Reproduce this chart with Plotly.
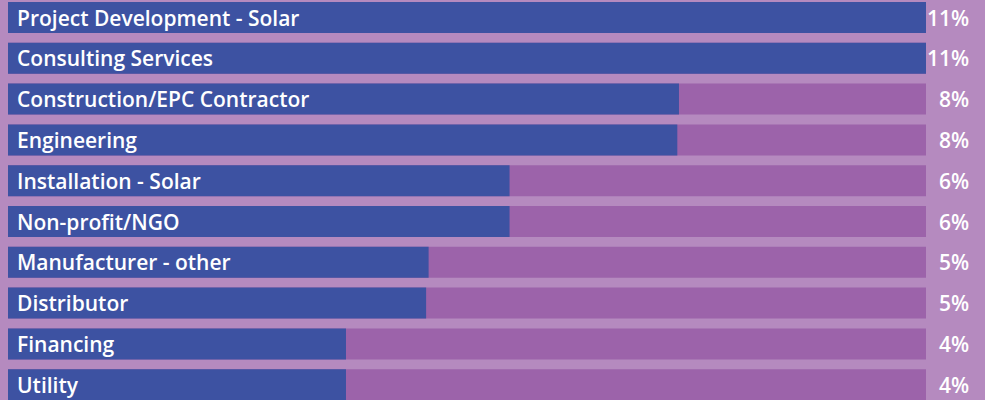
import plotly.graph_objects as go

categories = ["Project Development - Solar", "Consulting Services", "Construction/EPC Contractor",
              "Engineering", "Installation - Solar", "Non-profit/NGO", "Manufacturer - other",
              "Distributor", "Financing", "Utility"]
values = [11.0, 11.0, 8.04, 8.02, 6.01, 6.01, 5.04, 5.01, 4.05, 4.05]
value_labels = ["11%", "11%", "8%", "8%", "6%", "6%", "5%", "5%", "4%", "4%"]

BG = "#b58abf"
TRACK = "#9c63aa"
BLUE = "#3d52a2"
W, H = 985, 400
xmax = max(values)
ypos = list(range(len(categories)))

fig = go.Figure()
fig.add_trace(go.Bar(x=[xmax] * len(values), y=ypos, orientation="h", width=0.76,
                     marker=dict(color=TRACK, line=dict(width=0)), hoverinfo="skip"))
fig.add_trace(go.Bar(x=values, y=ypos, orientation="h", width=0.76,
                     marker=dict(color=BLUE, line=dict(width=0))))

font = dict(family="Open Sans, sans-serif", size=21, color="white", weight=600)
for i, (c, lab) in enumerate(zip(categories, value_labels)):
    fig.add_annotation(x=16 / W, xref="paper", y=i, yref="y", text=c, showarrow=False,
                       xanchor="left", yanchor="middle", font=font, borderpad=0)
    fig.add_annotation(x=970 / W, xref="paper", y=i, yref="y", text=lab, showarrow=False,
                       xanchor="right", yanchor="middle", font=font, borderpad=0)

fig.update_layout(
    width=W, height=H, barmode="overlay", showlegend=False,
    paper_bgcolor=BG, plot_bgcolor=BG,
    margin=dict(l=0, r=0, t=0, b=0),
    xaxis=dict(domain=[8 / W, 926 / W], range=[0, xmax], visible=False, fixedrange=True),
    yaxis=dict(range=[9.375, -0.429], visible=False, fixedrange=True),
)
fig.write_html("out.html")
